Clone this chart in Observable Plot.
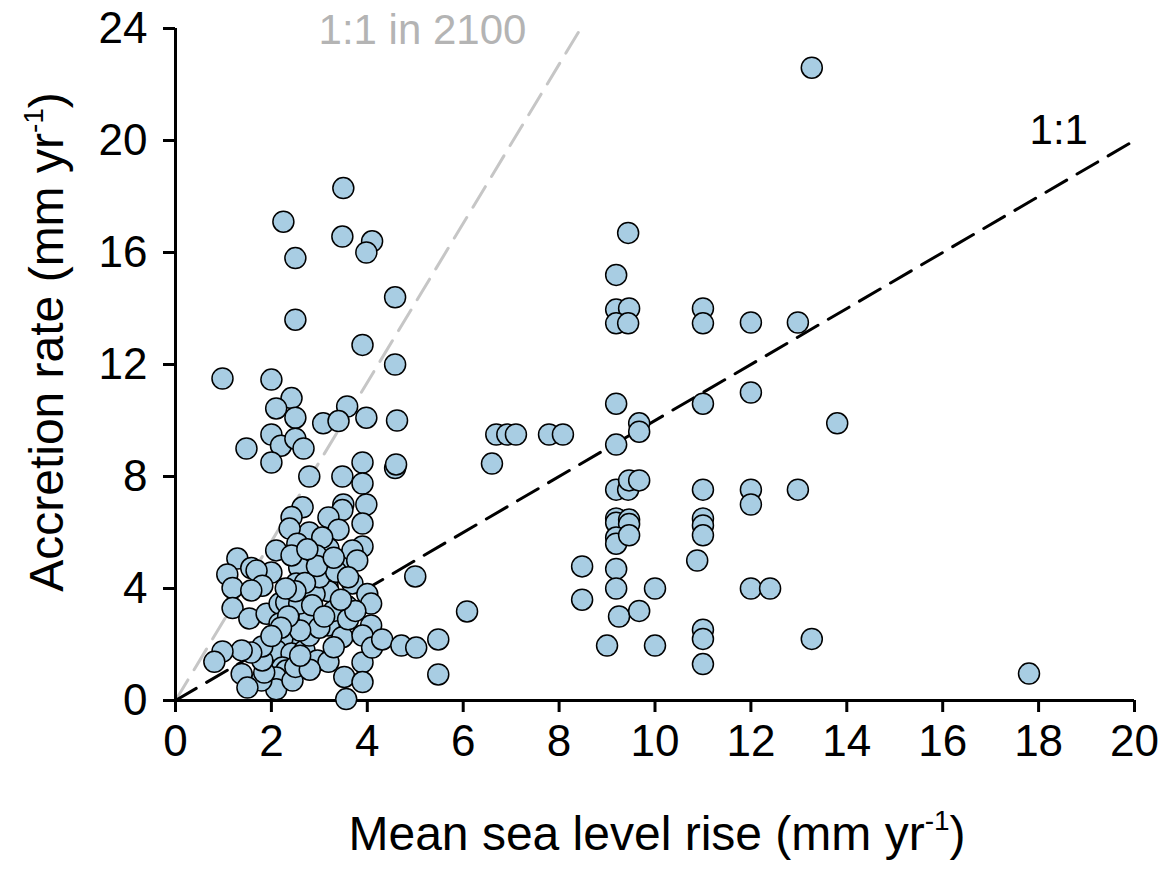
<!DOCTYPE html>
<html>
<head>
<meta charset="utf-8">
<script src="https://cdn.jsdelivr.net/npm/d3@7"></script>
<script src="https://cdn.jsdelivr.net/npm/@observablehq/plot@0.6"></script>
<style>
  html, body { margin: 0; padding: 0; background: #fff; }
  #chart svg { display: block; }
</style>
</head>
<body>
<div id="chart"></div>
<script>
// Mean sea level rise (mm/yr)
const slr = [
  0.98,1.48,2.0,2.25,2.42,2.1,2.5,2.5,2.5,2.0,2.2,2.5,2.67,2.0,
  3.5,3.48,4.1,3.98,4.58,3.9,4.58,3.58,3.08,3.4,3.98,4.62,
  2.79,3.48,3.9,4.58,4.6,3.9,3.98,3.5,3.48,2.65,2.42,3.19,3.9,3.4,2.79,2.38,
  3.9,3.19,3.48,3.06,2.54,2.94,3.69,3.79,2.58,2.1,2.42,1.29,1.08,1.58,2.0,1.69,
  1.19,1.81,1.58,1.19,1.54,1.9,2.17,2.31,2.17,2.38,2.48,2.23,2.1,2.42,2.23,2.31,
  2.1,2.1,1.79,1.85,1.81,1.81,1.58,1.38,1.38,1.5,0.98,0.81,2.44,2.5,2.69,2.96,
  2.79,2.79,2.58,2.52,3.17,3.19,3.69,4.0,4.08,3.58,4.08,3.2,3.48,3.9,3.19,3.9,
  4.1,4.31,4.71,5.02,5.48,5.48,5.0,6.08,3.52,3.9,3.56,
  2.9,3.0,2.7,3.3,3.0,2.85,3.35,2.6,3.6,3.75,2.95,3.3,2.75,3.6,2.35,2.5,2.2,3.1,3.45,2.8,3.3,2.0,2.6,2.3,
  6.6,6.69,6.92,7.1,7.79,8.08,8.48,8.48,9.0,
  9.19,9.19,9.46,9.19,9.44,9.44,9.19,9.19,9.67,9.67,9.19,9.44,9.46,9.67,
  9.19,9.19,9.46,9.46,9.19,9.19,9.46,9.19,9.19,9.25,9.67,10.0,10.0,10.88,
  11.0,11.0,11.0,11.0,11.0,11.0,11.0,11.0,11.0,11.0,
  12.0,12.0,12.0,12.0,12.0,12.4,12.98,12.98,13.27,13.27,13.8,17.8
];
// Accretion rate (mm/yr)
const accretion = [
  11.5,9.0,11.46,17.1,10.8,10.43,10.1,15.8,13.6,9.5,9.1,9.35,9.0,8.5,
  18.3,16.57,16.4,16.0,14.4,12.7,12.0,10.5,9.9,9.98,10.1,10.0,
  8.0,8.0,8.5,8.3,8.43,7.75,7.0,7.0,6.8,6.9,6.55,6.54,6.32,6.1,6.0,6.14,
  5.5,5.43,5.0,5.82,5.6,5.18,5.36,5.0,4.75,5.36,5.18,5.07,4.5,4.73,4.57,4.64,
  4.02,4.1,3.93,3.3,2.93,3.1,3.46,3.5,2.75,2.21,2.96,2.21,1.79,1.68,1.18,1.07,
  0.82,0.4,0.71,1.0,1.43,1.93,1.71,1.79,0.95,0.46,1.75,1.38,0.71,1.2,1.79,1.43,
  2.32,2.96,3.46,4.18,4.1,3.9,4.18,3.8,3.46,3.36,2.68,2.68,2.26,2.32,1.38,1.36,
  1.89,2.18,1.96,1.89,2.18,0.93,4.43,3.18,0.84,0.66,0.05,
  3.8,4.4,4.2,3.2,2.6,3.4,4.6,2.5,2.9,3.2,4.8,5.1,5.4,4.4,3.0,3.9,2.6,3.0,3.6,1.1,1.9,2.3,1.6,4.0,
  8.46,9.5,9.5,9.5,9.5,9.5,4.79,3.6,1.96,
  15.2,13.96,14.0,13.47,13.47,16.7,10.6,9.14,9.9,9.6,7.53,7.53,7.86,7.86,
  6.5,6.35,6.46,6.3,5.82,5.6,5.9,4.7,4.0,3.0,3.2,4.0,1.96,5.0,
  14.0,13.47,10.6,7.53,6.5,6.25,5.9,2.53,2.2,1.3,
  13.5,11.0,7.53,7.0,4.0,4.0,13.5,7.53,2.2,22.6,9.9,0.96
];
const xTicks = [0,2,4,6,8,10,12,14,16,18,20];
const yTicks = [0,4,8,12,16,20,24];
// Reference lines: 1:1 and 1:1 in 2100 (slope)
const oneToOneX = [0, 20];
const slope2100 = 2.84;
const line2100X = [0, 24 / 2.84];
const lineLabels = ["1:1 in 2100", "1:1"];

const points = slr.map((x, i) => ({x, y: accretion[i]}));
const oneToOne = oneToOneX.map(x => ({x, y: x}));
const line2100 = line2100X.map(x => ({x, y: x * slope2100}));

const font = "'Liberation Sans', Arial, sans-serif";

const plot = Plot.plot({
  width: 1167,
  height: 876,
  marginLeft: 175,
  marginRight: 33,
  marginTop: 28,
  marginBottom: 176,
  style: {fontFamily: font, background: "#fff"},
  x: {domain: [0, 20], label: null},
  y: {domain: [0, 24], label: null},
  marks: [
    Plot.line(line2100, {x: "x", y: "y", stroke: "#c6c6c6", strokeWidth: 3, strokeDasharray: "24,12"}),
    Plot.line(oneToOne, {x: "x", y: "y", stroke: "#000", strokeWidth: 3, strokeDasharray: "24,12"}),
    Plot.axisX({ticks: xTicks, tickSize: 12, tickPadding: 12, fontSize: 44, strokeWidth: 3, fill: "#000", tickFormat: d => String(d)}),
    Plot.axisY({ticks: yTicks, tickSize: 12, tickPadding: 16, fontSize: 44, strokeWidth: 3, fill: "#000", tickFormat: d => String(d)}),
    Plot.ruleX([0], {stroke: "#000", strokeWidth: 3}),
    Plot.ruleY([0], {stroke: "#000", strokeWidth: 3}),
    Plot.dot(points, {x: "x", y: "y", r: 10.5, fill: "#a8cde3", stroke: "#000", strokeWidth: 1.5}),
    Plot.text([lineLabels[0]], {x: 5.15, y: 23.93, text: d => d, fill: "#b4b4b4", fontSize: 42, textAnchor: "middle", lineAnchor: "middle"}),
    Plot.text([lineLabels[1]], {x: 18.42, y: 20.36, text: d => d, fill: "#000", fontSize: 42, textAnchor: "middle", lineAnchor: "middle"})
  ]
});

document.getElementById("chart").appendChild(plot);

// Axis titles with superscripts
const svg = d3.select(plot);
const xt = svg.append("text")
  .attr("x", 657).attr("y", 850)
  .attr("text-anchor", "middle")
  .attr("font-family", font).attr("font-size", 48).attr("fill", "#000");
xt.append("tspan").text("Mean sea level rise (mm yr");
xt.append("tspan").attr("font-size", 28).attr("dy", -20).text("-1");
xt.append("tspan").attr("dy", 20).text(")");

const yt = svg.append("text")
  .attr("transform", "translate(63,342) rotate(-90)")
  .attr("text-anchor", "middle")
  .attr("font-family", font).attr("font-size", 48).attr("fill", "#000");
yt.append("tspan").text("Accretion rate (mm yr");
yt.append("tspan").attr("font-size", 28).attr("dy", -20).text("-1");
yt.append("tspan").attr("dy", 20).text(")");
</script>
</body>
</html>
